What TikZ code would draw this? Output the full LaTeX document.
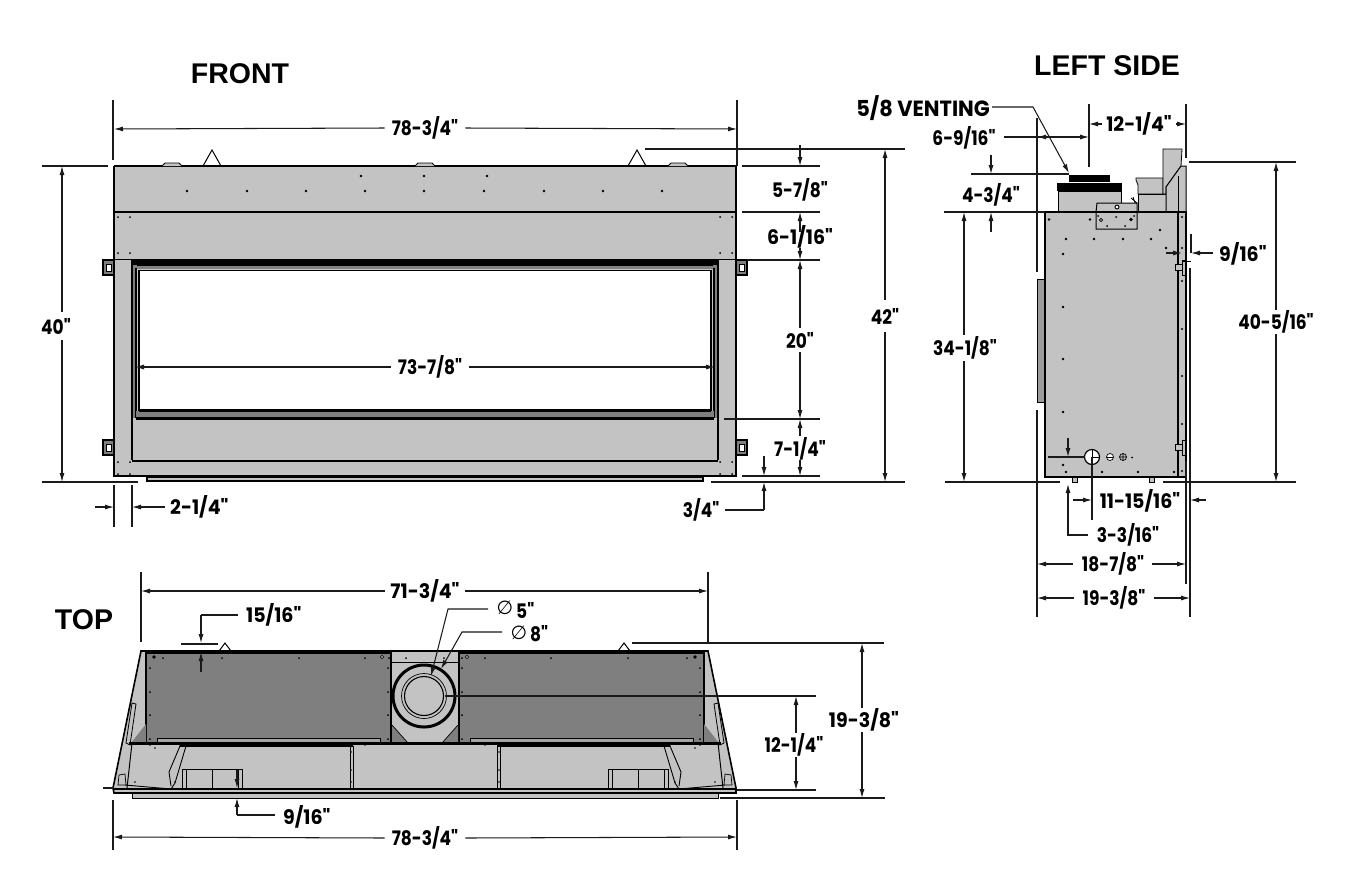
\documentclass[tikz,border=0pt]{standalone}
\usepackage{fontspec}
\setmainfont{Poppins}
\newfontfamily\dimfont[FakeStretch=0.85]{Poppins}
\newfontfamily\dimwide[FakeStretch=0.95]{Poppins}
\newfontfamily\titlefont{Liberation Sans}
\newfontfamily\symfont{DejaVu Sans}
\usetikzlibrary{arrows.meta}
\definecolor{panel}{HTML}{C3C3C3}
\definecolor{darkpanel}{HTML}{7F7F7F}
\definecolor{dimcol}{HTML}{1A1A1A}
\tikzset{
 dimtext/.style={font=\dimfont\fontsize{20}{22}\selectfont\bfseries,text=black,inner sep=0pt},
 widetext/.style={font=\dimwide\fontsize{20}{22}\selectfont\bfseries,text=black,inner sep=0pt},
 titletext/.style={font=\titlefont\fontsize{28.5}{30}\selectfont\bfseries,text=black,inner sep=0pt},
 phitext/.style={font=\symfont\fontsize{19}{20}\selectfont,inner sep=0pt},
 dimline/.style={draw=dimcol,line width=1.05pt},
 arr/.style={dimline,-{Latex[length=9pt,width=5pt]}},
 outline/.style={draw=black,line width=1.3pt},
 heavy/.style={draw=black,line width=2.2pt},
 part/.style={fill=panel,draw=black,line width=1.2pt}
}
\newcommand{\rivets}[3]{\foreach \xx in {#2}{\fill (\xx,#1) circle (#3);}}
\begin{document}
\begin{tikzpicture}[x=1pt,y=-1pt]
\useasboundingbox (0,0) rectangle (1372,876);
\fill[white] (0,0) rectangle (1372,876);
% ===== titles
\node[titletext] (tfront) at (240,74) {FRONT};
\node[titletext] (tleft) at (1107,66) {LEFT SIDE};
\node[titletext] (ttop) at (84,620) {TOP};
% ===== FRONT
\fill[panel] (114,166) rectangle (736,476);
\fill[white] (139,271) rectangle (711,410);
\draw[heavy] (114,166) -- (736,166);
\draw[outline,line width=1.8pt] (114,166) -- (114,476) -- (736,476) -- (736,166);
\draw[heavy] (114,212) -- (736,212);
\draw[outline] (114,259.5) -- (736,259.5);
% window frame
\fill[black] (132,260) rectangle (718,265.5);
\fill[darkpanel] (132,265.5) rectangle (718,269);
\draw[outline,line width=1.6pt] (132,260) -- (132,460);
\draw[outline,line width=1.6pt] (718,260) -- (718,460);
\fill[darkpanel] (133,265) rectangle (137,418);
\fill[darkpanel] (713,265) rectangle (717,418);
\draw[outline] (136,268) -- (136,418) (714,268) -- (714,418);
\fill[darkpanel] (136,411) rectangle (714,417.5);
\draw[line width=1.8pt] (139,270.5) -- (711,270.5) -- (711,410) -- (139,410) -- cycle;
\draw[heavy] (136,418.5) -- (714,418.5);
\draw[heavy] (139,410.5) -- (711,410.5);
\draw[heavy] (132,461) -- (718,461);
% base
\draw[line width=1.4pt,fill=panel] (147,477) rectangle (703,481);
\draw[heavy] (114,476) -- (736,476);
% brackets
\foreach \xa/\xb in {103/114,736/747}{\foreach \ya in {260,440}{
 \draw[line width=1.4pt,fill=darkpanel] (\xa,\ya) rectangle (\xb,\ya+15);
 \fill[white] (\xa+3,\ya+4) rectangle (\xb-3,\ya+11);
 \draw[line width=.6pt] (\xa+3,\ya+4) rectangle (\xb-3,\ya+11);
}}
% top features
\draw[line width=1pt] (203,166) -- (212,150) -- (221,166);
\draw[line width=1pt] (628,166) -- (637,150) -- (646,166);
\foreach \xa in {162,415,668}{\draw[line width=.8pt,fill=panel] (\xa,166) -- (\xa+3,163) -- (\xa+17,163) -- (\xa+20,166);}
\rivets{191}{187,247,306,365,424,484,544,603,662}{1.3pt}
\rivets{176}{361,424,487}{1.3pt}
\foreach \yy in {217,253,462,474}{\rivets{\yy}{118,130,720,732}{1pt}}
% ===== FRONT dims
\coordinate (f78a) at (114,129); \coordinate (f78b) at (737,129);
\node[dimtext] (t78top) at (425,128) {78-3/4"};
\draw[dimline] (113,100)--(113,160) (737,100)--(737,166);
\draw[arr] (t78top.west)++(-7,0) -- (f78a);
\draw[arr] (t78top.east)++(7,0) -- (f78b);
\node[dimtext] (t40) at (56,326) {40"};
\draw[arr] (62,312) -- (62,166);
\draw[arr] (62,340) -- (62,482);
\draw[dimline] (42,166)--(108,166) (42,482)--(138,482);
\node[dimtext] (t42) at (885,316) {42"};
\draw[arr] (885,300) -- (885,149);
\draw[arr] (885,332) -- (885,482);
\draw[dimline] (645,149)--(905,149) (711,482)--(905,482);
\draw[dimline] (742,166)--(820,166) (742,212)--(820,212) (747,260)--(820,260) (724,419)--(820,419) (742,476)--(820,476);
\node[dimtext] (t578) at (800,190) {5-7/8"};
\draw[arr] (800,145) -- (800,166);
\draw[arr] (800,232) -- (800,212);
\node[widetext] (t6116) at (800,237) {6-1/16"};
\draw[arr] (800,248) -- (800,260);
\draw[arr] (800,328) -- (800,260);
\node[dimtext] (t20) at (800,340) {20"};
\draw[arr] (800,352) -- (800,419);
\draw[arr] (800,436) -- (800,419);
\node[dimtext] (t714) at (800,449) {7-1/4"};
\draw[arr] (800,460) -- (800,476);
\draw[arr] (764,456) -- (764,476);
\draw[arr] (764,510) -- (764,482);
\node[dimtext] (t34) at (701,510) {3/4"};
\draw[dimline] (725,510) -- (764,510);
\node[dimtext] (t73) at (430,367) {73-7/8"};
\draw[arr] (t73.west)++(-7,0) -- (135,367);
\draw[arr] (t73.east)++(7,0) -- (715,367);
\draw[dimline] (114,485)--(114,527) (132,485)--(132,527);
\draw[arr] (95,507) -- (114,507);
\draw[arr] (165,507) -- (132,507);
\node[widetext,anchor=west] (t214) at (170,507) {2-1/4"};
% ===== TOP view
\draw[part,line width=1.6pt] (141,651) -- (708,651) -- (736,788) -- (736,793) -- (114,793) -- (113,788) -- cycle;
\draw[line width=1pt,fill=panel] (132,793) rectangle (718,798);
\draw[outline] (114,789.5) -- (736,789.5);
\draw[outline,fill=darkpanel] (146,653) rectangle (391,743);
\draw[outline,fill=darkpanel] (459,653) rectangle (704,743);
\draw[line width=.7pt] (391,662) -- (459,662);
\foreach \m in {1,-1}{
\begin{scope}[shift={(425,0)},xscale=\m]
 \fill[darkpanel] (-33,725) -- (-33,743) -- (-17,743) -- cycle;
 \draw[line width=.7pt] (-33,725) -- (-17,743);
 \draw[line width=.8pt,fill=panel!85!black] (-268,738) rectangle (-45,743);
 \draw[line width=1pt] (-293,743) -- (-298,788);
 \draw[outline] (-245,746) -- (-72,746);
 \draw[line width=1pt] (-75,746) -- (-75,789) (-72,746) -- (-72,789);
 \draw[line width=.9pt] (-245,746) -- (-239,746) -- (-250,783) -- (-254,789) -- (-300,785);
 \draw[line width=.9pt] (-245,746) -- (-256,772) -- (-254,786);
 \draw[line width=.9pt] (-243,789) -- (-243,769) -- (-183,769) -- (-183,789);
 \draw[line width=.8pt] (-239,769) -- (-239,789) (-213,769) -- (-213,789) (-187,769) -- (-187,789);
 \fill[darkpanel] (-279,724) -- (-294,743) -- (-279,743) -- cycle;
 \draw[line width=.8pt,fill=panel] (-293,703) -- (-289,704) -- (-295,745) -- (-299,743) -- cycle;
 \draw[line width=.7pt,fill=panel] (-306,775) -- (-300,774) -- (-299,785) -- (-307,785) -- cycle;
 \rivets{658}{-262,-203,-126,-60}{1pt}
 \foreach \yy in {668,692,715,739}{\fill (-275,\yy) circle (1pt) (-37,\yy) circle (1pt);}
 \rivets{745}{-275,-245,-205,-165,-115,-60}{.8pt}
 \rivets{782}{-290,-250}{.9pt}
 \rivets{748}{-270}{.9pt}
 \foreach \yy in {752,770,782}{\fill (-74,\yy) circle (.8pt);}
\end{scope}}
\draw[heavy] (129,743.5) -- (721,743.5);
\draw[line width=1pt] (114,788) -- (736,788);
\rivets{658}{389,462,406,444}{1pt}
\draw[line width=.8pt,fill=white] (382,657) circle (1.6pt) (467,657) circle (1.6pt);
\fill (154,657) circle (1.8pt) (695,657) circle (1.8pt);
% flue
\draw[line width=3pt] (424,696) circle (31);
\draw[line width=.7pt,fill=panel] (424,696) circle (22.5);
\draw[line width=1.1pt] (424,696) circle (19.5);
\draw[line width=.7pt] (414,788) -- (436,788);
% top dims
\node[widetext] (t71) at (425,591) {71-3/4"};
\draw[dimline] (141,572)--(141,642) (708,572)--(708,643);
\draw[arr] (t71.west)++(-5,0) -- (141,591);
\draw[arr] (t71.east)++(5,0) -- (708,591);
\node[widetext,anchor=west] (t1516) at (246,615) {15/16"};
\draw[dimline] (238,615) -- (201,615);
\draw[arr] (201,615) -- (201,643);
\draw[dimline] (181,644) -- (218,644);
\draw[arr] (201,672) -- (201,652);
\draw[line width=1pt] (219,651) -- (225,643) -- (231,651);
\draw[line width=1pt] (618,651) -- (624,643) -- (630,651);
\draw[dimline] (632,643) -- (884,643);
\node[widetext] (t1938b) at (864,720) {19-3/8"};
\draw[arr] (862,708) -- (862,643);
\draw[arr] (862,732) -- (862,798);
\draw[dimline] (720,798)--(885,798) (737,790)--(816,790);
\draw[dimline] (445,696)--(816,696);
\node[dimtext] (t1214b) at (794,745) {12-1/4"};
\draw[arr] (796,733) -- (796,696);
\draw[arr] (796,757) -- (796,790);
\draw[dimline] (103,788) -- (114,788);
\draw[arr] (237,770) -- (237,788);
\draw[arr] (237,815) -- (237,798);
\draw[dimline] (237,815) -- (275,815);
\node[widetext,anchor=west] (t916b) at (283,817) {9/16"};
\node[dimtext] (t78bot) at (425,838) {78-3/4"};
\draw[dimline] (113,800)--(113,850) (737,800)--(737,850);
\draw[arr] (t78bot.west)++(-7,0) -- (113,837);
\draw[arr] (t78bot.east)++(7,0) -- (737,837);
\node[phitext] (phi5) at (505,608) {∅};
\node[dimtext,anchor=west] (t5) at (516,610) {5"};
\node[phitext] (phi8) at (519,633) {∅};
\node[dimtext,anchor=west] (t8) at (530,634) {8"};
\draw[arr] (488,609) -- (448,609) -- (431,676);
\draw[arr] (502,632) -- (462,632) -- (441,669);
% ===== LEFT SIDE
\draw[line width=1.6pt,fill=panel] (1045,212) rectangle (1186,477);
\draw[outline] (1178,212) -- (1178,477);
\draw[line width=.9pt,fill=panel!80!black] (1037,279) rectangle (1044,402);
\fill[black] (1069,175) rectangle (1110,182);
\fill[black] (1057,183) rectangle (1122,191);
\draw[line width=.8pt,fill=panel] (1058,191) rectangle (1121,212);
\draw[line width=.8pt,fill=panel] (1136,178) -- (1163,178) -- (1163,194) -- (1138,194) -- (1138,185) -- (1136,180) -- cycle;
\draw[line width=1pt,fill=panel] (1138,194) rectangle (1166,212);
\draw[line width=.8pt,fill=panel] (1163,194) -- (1163,149) -- (1182,149) -- (1181,166) -- (1166,187) -- (1166,194) -- cycle;
\draw[line width=1pt,fill=panel] (1166,212) -- (1166,187) -- (1181,166) -- (1186,166) -- (1186,212) -- cycle;
\draw[line width=1pt] (1178,176) -- (1178,212);
\draw[line width=1pt,fill=panel] (1096,212) -- (1097,203) -- (1137,203) -- (1137,212) -- (1137,229) -- (1096,229) -- cycle;
\draw[outline] (1045,212) -- (1186,212);
\draw[line width=.9pt,fill=white] (1117,207) circle (2);
\draw[line width=.8pt] (1101,220) circle (1.6);
\fill (1131,219.5) circle (1.8) (1098,216) circle (1) (1116,217) circle (1) (1134,216) circle (1) (1107,226) circle (1) (1125,226) circle (1);
\draw[line width=.8pt] (1131,198) -- (1137,203) (1133,197) -- (1135,203);
\fill[black] (1049,219.5) circle (1.3) (1090,219.5) circle (1.3) (1066,239) circle (1.3) (1094,239) circle (1.3) (1123,239) circle (1.3) (1151,239) circle (1.3) (1160,230) circle (1.3) (1063,254) circle (1.3) (1166,248) circle (1.3);
\foreach \px/\py in {1182/217,1182/248,1182/281,1182/329,1182/376,1182/424,1182/471}{\fill[black] (\px,\py) circle (1.2);}
\foreach \px/\py in {1063/307,1063/359,1063/412,1063/465,1066/472,1102/472,1138/472,1174/472}{\fill[black] (\px,\py) circle (1.3);}
\draw[line width=.9pt,fill=panel] (1175,264) rectangle (1182,270);
\draw[line width=1pt,fill=panel] (1182,260) rectangle (1185,275);
\draw[line width=.9pt,fill=panel] (1175,444) rectangle (1182,450);
\draw[line width=1pt,fill=panel] (1182,440) rectangle (1185,455);
\draw[line width=.9pt] (1182,261) -- (1191,261);
\draw[line width=1.2pt,fill=white] (1092,457) circle (7.5);
\draw[line width=.8pt] (1092,457) -- (1099,457) (1092,449.5) -- (1092,464.5);
\draw[line width=.7pt,fill=white] (1110,457) circle (3.5);
\draw[line width=.7pt] (1107,457) -- (1113,457);
\draw[line width=.7pt] (1123,457) circle (3.5) (1120,457) -- (1126,457) (1123,454) -- (1123,460);
\fill (1132,457.5) circle (1);
\draw[line width=.7pt,fill=panel] (1072,477) rectangle (1077,482);
\draw[line width=.7pt,fill=panel] (1149,477) rectangle (1154,482);
% left dims
\node[widetext,font=\dimwide\fontsize{22}{24}\selectfont\bfseries,anchor=east] (t58) at (990,108) {5/8 VENTING};
\draw[arr] (992,107) -- (1033,107) -- (1069,173);
\node[widetext] (t1214) at (1139,124) {12-1/4"};
\draw[dimline] (1089,104)--(1089,167) (1186,104)--(1186,158);
\draw[arr] (1102,124) -- (1089,124);
\draw[arr] (1176,124) -- (1186,124);
\node[dimtext] (t6916) at (964,138) {6-9/16"};
\draw[dimline] (1037,118) -- (1037,272);
\draw[arr] (1060,137) -- (1037,137);
\draw[arr] (1004,137) -- (1089,137);
\draw[dimline] (971,174) -- (1069,174);
\node[dimtext] (t434) at (991,195) {4-3/4"};
\draw[arr] (991,155) -- (991,174);
\draw[arr] (991,232) -- (991,212);
\draw[dimline,line width=1.3pt] (944,212) -- (1045,212);
\node[dimtext] (t3418) at (965,348) {34-1/8"};
\draw[arr] (964,335) -- (964,212);
\draw[arr] (964,361) -- (964,482);
\draw[dimline] (945,482) -- (1060,482) (1163,482) -- (1296,482);
\draw[dimline] (1189,162) -- (1296,162);
\node[dimtext] (t40516) at (1276,322) {40-5/16"};
\draw[arr] (1276,310) -- (1276,162);
\draw[arr] (1276,334) -- (1276,482);
\draw[dimline] (1191,234) -- (1191,253);
\draw[arr] (1213,253) -- (1191,253);
\draw[arr] (1166,253) -- (1182,253);
\node[widetext,anchor=west] (t916) at (1219,254) {9/16"};
\draw[dimline] (1190,268) -- (1190,617) (1037,410) -- (1037,617) (1186,461) -- (1186,584);
\draw[dimline] (1092,457) -- (1092,520);
\node[widetext] (t1115) at (1140,501) {11-15/16"};
\draw[arr] (1073,500) -- (1092,500);
\draw[arr] (1206,500) -- (1190,500);
\draw[arr] (1068,438) -- (1068,457);
\draw[dimline] (1048,457) -- (1085,457);
\draw[arr] (1088,535) -- (1068,535) -- (1068,484);
\node[dimtext] (t3316) at (1128,535) {3-3/16"};
\node[dimtext] (t1878) at (1113,564) {18-7/8"};
\draw[arr] (1073,564) -- (1037,564);
\draw[arr] (1152,564) -- (1186,564);
\node[dimtext] (t1938) at (1114,598) {19-3/8"};
\draw[arr] (1074,598) -- (1037,598);
\draw[arr] (1154,598) -- (1190,598);
\end{tikzpicture}
\end{document}
